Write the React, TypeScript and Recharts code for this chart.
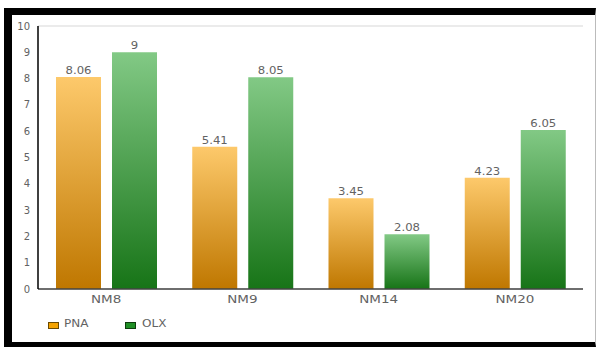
import React from "react";
import { BarChart, Bar, XAxis, YAxis, CartesianGrid, Legend, LabelList } from "recharts";

const categories = ["NM8", "NM9", "NM14", "NM20"];
const pnaValues = [8.06, 5.41, 3.45, 4.23];
const olxValues = [9, 8.05, 2.08, 6.05];
const yTicks = [0, 1, 2, 3, 4, 5, 6, 7, 8, 9, 10];

const data = categories.map((c, i) => ({ name: c, PNA: pnaValues[i], OLX: olxValues[i] }));

const FONT = "'DejaVu Sans', sans-serif";
const TXT = "#626262";

const XTick = (props: any) => {
  const { x, y, payload } = props;
  return (
    <text
      transform={`translate(${x},${y}) scale(1.35,1)`}
      textAnchor="middle"
      dy="0.71em"
      fontFamily={FONT}
      fontSize={10}
      fill={TXT}
    >
      {payload.value}
    </text>
  );
};

const YTick = (props: any) => {
  const { x, y, payload } = props;
  return (
    <text x={x} y={y} textAnchor="end" dy="0.355em" fontFamily={FONT} fontSize={10} fill={TXT}>
      {payload.value}
    </text>
  );
};

const ValueLabel = (props: any) => {
  const { x, y, width, value } = props;
  return (
    <text
      transform={`translate(${x + width / 2},${y - 3}) scale(1.17,1)`}
      textAnchor="middle"
      fontFamily={FONT}
      fontSize={10}
      fill={TXT}
    >
      {value}
    </text>
  );
};

const LegendContent = () => (
  <div style={{ position: "relative", height: 24, fontFamily: FONT, fontSize: 10, color: TXT }}>
    <span style={{ position: "absolute", left: 48, top: 9, width: 9, height: 5, background: "#f5a300", border: "1px solid #6b4a00" }} />
    <span style={{ position: "absolute", left: 64, top: 5, transform: "scaleX(1.2)", transformOrigin: "left center" }}>PNA</span>
    <span style={{ position: "absolute", left: 125, top: 9, width: 9, height: 5, background: "#1f8f25", border: "1px solid #0d3d0d" }} />
    <span style={{ position: "absolute", left: 142, top: 5, transform: "scaleX(1.2)", transformOrigin: "left center" }}>OLX</span>
  </div>
);

export default function App() {
  return (
    <div style={{ position: "absolute", left: 0, top: 0, width: 598, height: 347, background: "#fff", overflow: "hidden" }}>
      <div
        style={{
          position: "absolute",
          left: 4,
          top: 8,
          width: 592,
          height: 339,
          boxSizing: "border-box",
          borderTop: "7px solid #000",
          borderLeft: "8px solid #000",
          borderBottom: "5px solid #000",
          borderRight: "1px solid #bbb",
        }}
      />
      <div style={{ position: "absolute", left: 0, top: 0 }}>
        <BarChart
          width={598}
          height={347}
          data={data}
          margin={{ top: 26, right: 15, left: 0, bottom: 10 }}
          barGap={11}
          barSize={45}
        >
          <defs>
            <linearGradient id="gPNA" x1="0" y1="0" x2="0" y2="1">
              <stop offset="0%" stopColor="#fdc96b" />
              <stop offset="100%" stopColor="#bf7700" />
            </linearGradient>
            <linearGradient id="gOLX" x1="0" y1="0" x2="0" y2="1">
              <stop offset="0%" stopColor="#82c985" />
              <stop offset="100%" stopColor="#177417" />
            </linearGradient>
          </defs>
          <CartesianGrid vertical={false} stroke="#e4e4e4" strokeWidth={1.5} />
          <XAxis
            dataKey="name"
            axisLine={{ stroke: "#444", strokeWidth: 1.5 }}
            tickLine={false}
            tickSize={0}
            tickMargin={7}
            height={24}
            tick={<XTick />}
          />
          <YAxis
            yAxisId="l"
            domain={[0, 10]}
            ticks={yTicks}
            interval={0}
            width={38}
            axisLine={{ stroke: "#000", strokeWidth: 1.5 }}
            tickLine={false}
            tickSize={0}
            tickMargin={8}
            tick={<YTick />}
          />
          <YAxis
            yAxisId="r"
            orientation="right"
            domain={[0, 10]}
            width={0}
            tick={false}
            tickLine={false}
            axisLine={{ stroke: "#222", strokeWidth: 1.2 }}
          />
          <Legend verticalAlign="bottom" align="left" height={24} content={<LegendContent />} />
          <Bar yAxisId="l" dataKey="PNA" fill="url(#gPNA)" isAnimationActive={false}>
            <LabelList dataKey="PNA" content={<ValueLabel />} />
          </Bar>
          <Bar yAxisId="l" dataKey="OLX" fill="url(#gOLX)" isAnimationActive={false}>
            <LabelList dataKey="OLX" content={<ValueLabel />} />
          </Bar>
        </BarChart>
      </div>
    </div>
  );
}
